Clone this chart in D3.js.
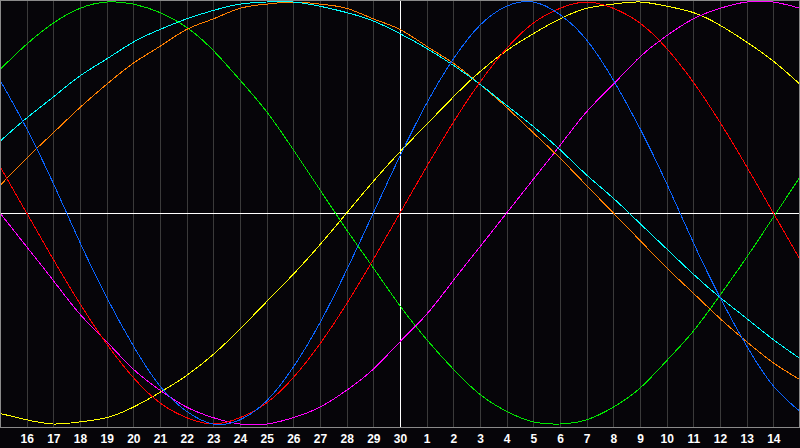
<!DOCTYPE html>
<html><head><meta charset="utf-8">
<script src="https://cdn.jsdelivr.net/npm/d3@7/dist/d3.min.js"></script>
<style>
html,body{margin:0;padding:0;background:#060509;}
svg{display:block;}
</style></head>
<body>
<svg id="c" width="800" height="448"></svg>
<script>
// day positions 0..30 (x axis), labels at grid days 1..29
const dayLabels = ["16","17","18","19","20","21","22","23","24","25","26","27","28","29","30",
  "1","2","3","4","5","6","7","8","9","10","11","12","13","14"];
const days = d3.range(0, 31);
const physical = [63,40,14,-14,-40,-63,-82,-94,-100,-98,-89,-73,-52,-27,0,27,52,73,89,98,100,94,82,63,40,14,-14,-40,-63,-82,-94];
const emotional = [22,0,-22,-43,-62,-78,-90,-97,-100,-97,-90,-78,-62,-43,-22,0,22,43,62,78,90,97,100,97,90,78,62,43,22,0,-22];
const intellectual = [68,80,90,97,100,99,95,88,77,63,48,30,11,-8,-26,-44,-60,-74,-86,-94,-99,-100,-98,-92,-83,-70,-56,-39,-21,-2,17];
const intuitive = [0,-16,-32,-48,-61,-74,-84,-92,-97,-100,-100,-97,-92,-84,-74,-61,-48,-32,-16,0,16,32,48,61,74,84,92,97,100,100,97];
const aesthetic = [-95,-98,-100,-99,-97,-92,-85,-77,-67,-55,-42,-29,-15,0,15,29,42,55,67,77,85,92,97,99,100,98,95,89,81,72,61];
const awareness = [13,26,38,50,61,71,79,87,92,97,99,100,99,97,92,87,79,71,61,50,38,26,13,0,-13,-26,-38,-50,-61,-71,-79];
const spiritual = [34,45,55,65,73,81,87,92,96,99,100,100,98,95,91,85,78,70,61,51,41,30,18,7,-5,-17,-29,-40,-50,-60,-69];

const series = [
  {name:"intellectual", values:intellectual, color:"#00e600"},
  {name:"aesthetic", values:aesthetic, color:"#ffff00"},
  {name:"intuitive", values:intuitive, color:"#ff00ff"},
  {name:"awareness", values:awareness, color:"#ff7f00"},
  {name:"spiritual", values:spiritual, color:"#00ffff"},
  {name:"emotional", values:emotional, color:"#ff0000"},
  {name:"physical", values:physical, color:"#0a64ff"}
];

const W = 800, plotBottom = 427;
const svg = d3.select("#c");
const x = d3.scaleLinear().domain([0, 30]).range([0, W]);
const y = d3.scaleLinear().domain([-100, 100]).range([424, 2]);

svg.append("rect").attr("width", W).attr("height", 448).attr("fill", "#060509");

// vertical grid
const gridDays = d3.range(1, 30);
svg.append("g").selectAll("line").data(gridDays).join("line")
  .attr("x1", d => Math.round(x(d)) + 0.5).attr("x2", d => Math.round(x(d)) + 0.5)
  .attr("y1", 0).attr("y2", plotBottom)
  .attr("stroke", d => d === 15 ? "#ffffff" : "#3a3a3a")
  .attr("stroke-width", 1).attr("shape-rendering", "crispEdges");

// horizontal zero line
svg.append("line").attr("x1", 0).attr("x2", W)
  .attr("y1", Math.round(y(0)) + 0.5).attr("y2", Math.round(y(0)) + 0.5)
  .attr("stroke", "#ffffff").attr("shape-rendering", "crispEdges");

// curves
const line = d3.line().x((d, i) => x(days[i])).y(d => y(d)).curve(d3.curveNatural);
svg.append("g").selectAll("path").data(series).join("path")
  .attr("d", s => line(s.values))
  .attr("fill", "none").attr("stroke", s => s.color).attr("stroke-width", 1)
  .attr("shape-rendering", "crispEdges");

// frame
svg.append("rect").attr("x", 0.5).attr("y", 0.5).attr("width", W - 1).attr("height", plotBottom)
  .attr("fill", "none").attr("stroke", "#8a8a8a").attr("shape-rendering", "crispEdges");

// x axis labels
const xAxis = d3.axisBottom(x).tickValues(gridDays).tickSize(0)
  .tickFormat(d => dayLabels[d - 1]);
const ax = svg.append("g").attr("transform", `translate(0,${plotBottom})`).call(xAxis);
ax.select(".domain").remove();
ax.selectAll("text").attr("fill", "#ffffff").attr("dy", 0).attr("y", 16)
  .style("font-family", "'Liberation Sans', Arial, sans-serif")
  .style("font-weight", "bold").style("font-size", "12px");
</script>
</body></html>
